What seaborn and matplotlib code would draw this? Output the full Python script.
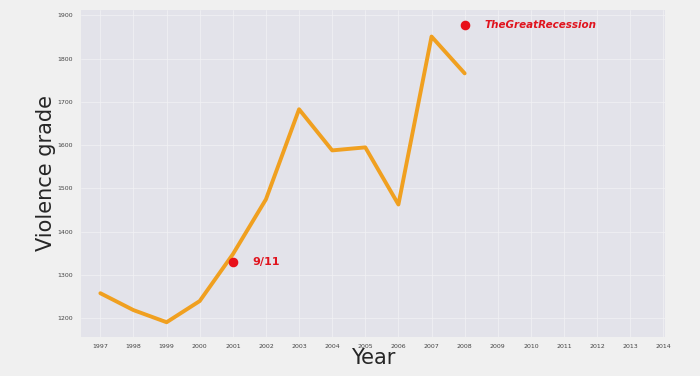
import matplotlib
matplotlib.use("Agg")
import matplotlib.pyplot as plt
import seaborn as sns
import pandas as pd

sns.set_style("darkgrid")

years = [1997, 1998, 1999, 2000, 2001, 2002, 2003, 2004, 2005, 2006, 2007, 2008]
grade = [1258, 1219, 1191, 1240, 1348, 1475, 1683, 1588, 1595, 1463, 1851, 1766]
event_years = [2001, 2008]
event_grade = [1330, 1877]
event_names = ["9/11", "TheGreatRecession"]
tick_years = list(range(1997, 2015))

df = pd.DataFrame({"Year": years, "Violence grade": grade})

fig = plt.figure(figsize=(7, 3.76), dpi=100, facecolor="#f0f0f0")
ax = fig.add_axes([0.115, 0.105, 0.835, 0.868])
ax.set_facecolor("#e3e3ea")

sns.lineplot(data=df, x="Year", y="Violence grade", color="#f0a020", linewidth=2.8, ax=ax)
ax.scatter(event_years, event_grade, color="#e8101a", s=35, zorder=5)
ax.text(event_years[0] + 0.6, event_grade[0], event_names[0], color="#e0141e",
        fontsize=8, fontweight="bold", va="center")
ax.text(event_years[1] + 0.6, event_grade[1], event_names[1], color="#e0141e",
        fontsize=7.5, fontweight="bold", style="italic", va="center")

ax.set_xlim(1996.4, 2014.05)
ax.set_ylim(1158, 1912)
ax.set_xticks(tick_years)
ax.set_yticks(range(1200, 2000, 100))
ax.tick_params(labelsize=4.5, colors="#444444", pad=2)
ax.set_xlabel("Year", fontsize=15, labelpad=-1)
ax.set_ylabel("Violence grade", fontsize=15, labelpad=1)
ax.grid(color="#f2f2f5", linewidth=0.5)
for s in ax.spines.values():
    s.set_visible(False)

plt.savefig("out.png", dpi=100, facecolor=fig.get_facecolor())
